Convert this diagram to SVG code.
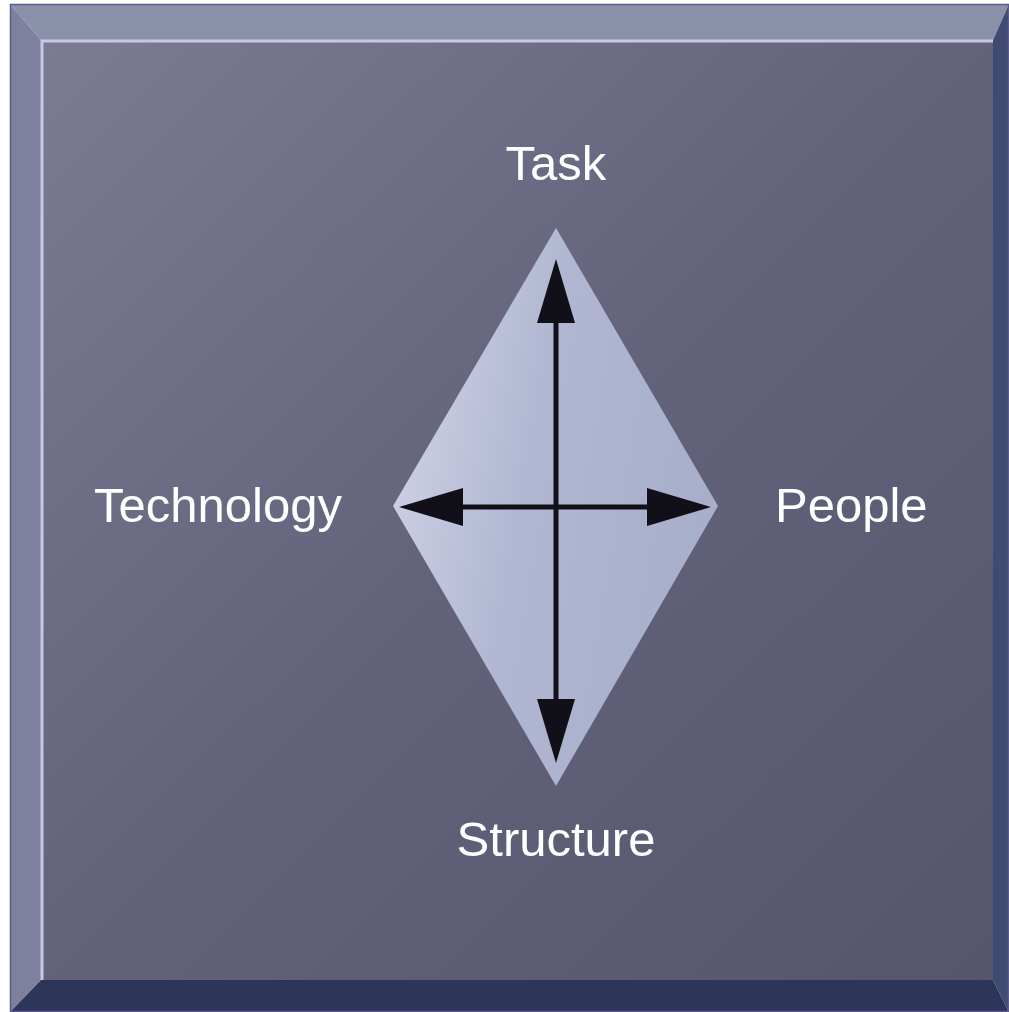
<svg xmlns="http://www.w3.org/2000/svg" width="1009" height="1012" viewBox="0 0 1009 1012">
<defs>
<linearGradient id="face" x1="0" y1="0" x2="1" y2="1">
<stop offset="0" stop-color="#7b7c93"/>
<stop offset="0.5" stop-color="#62627a"/>
<stop offset="1" stop-color="#55556d"/>
</linearGradient>
<linearGradient id="dia" x1="0" y1="0" x2="1" y2="0.3">
<stop offset="0" stop-color="#d3d7e8"/>
<stop offset="0.5" stop-color="#b1b7d2"/>
<stop offset="1" stop-color="#a8afcb"/>
</linearGradient>
<marker id="ah" viewBox="0 0 64 40" refX="1" refY="20" markerWidth="64" markerHeight="40" markerUnits="userSpaceOnUse" orient="auto">
<path d="M0,1 L64,20 L0,39 Z" fill="#111018"/>
</marker>
<style>
.lbl{font-family:"Liberation Sans",Arial,sans-serif;font-size:49px;fill:#ffffff;}
.ax{stroke:#111018;stroke-width:5;fill:none;}
</style>
</defs>
<rect width="1009" height="1012" fill="#ffffff"/>
<g id="frame">
<polygon points="10,4 1009,4 993,40 41,40" fill="#8a90a9"/>
<polygon points="10,4 41,40 41,980 10,1012" fill="#7f809e"/>
<polygon points="1009,4 1009,1012 993,980 993,40" fill="#404b73"/>
<polygon points="10,1012 41,980 993,980 1009,1012" fill="#2c3659"/>
<rect x="10.5" y="4.5" width="998" height="1007" fill="none" stroke="#5d5a8a" stroke-width="1.5"/>
<rect x="41" y="40" width="952" height="940" fill="url(#face)"/>
<polyline points="42,980 42,41 993,41" fill="none" stroke="#c5c9e6" stroke-width="3"/>
</g>
<g id="diamond">
<polygon points="556,228 718,506 556,786 393,506" fill="url(#dia)"/>
</g>
<g id="connectors">
<line class="ax" x1="556" y1="506" x2="556" y2="322" marker-end="url(#ah)"/>
<line class="ax" x1="556" y1="506" x2="556" y2="700" marker-end="url(#ah)"/>
<line class="ax" x1="556" y1="507" x2="462" y2="507" marker-end="url(#ah)"/>
<line class="ax" x1="556" y1="507" x2="648" y2="507" marker-end="url(#ah)"/>
</g>
<g id="task"><text class="lbl" x="556" y="180" text-anchor="middle">Task</text></g>
<g id="technology"><text class="lbl" x="94" y="522">Technology</text></g>
<g id="people"><text class="lbl" x="775" y="522">People</text></g>
<g id="structure"><text class="lbl" x="556" y="856" text-anchor="middle">Structure</text></g>
</svg>
